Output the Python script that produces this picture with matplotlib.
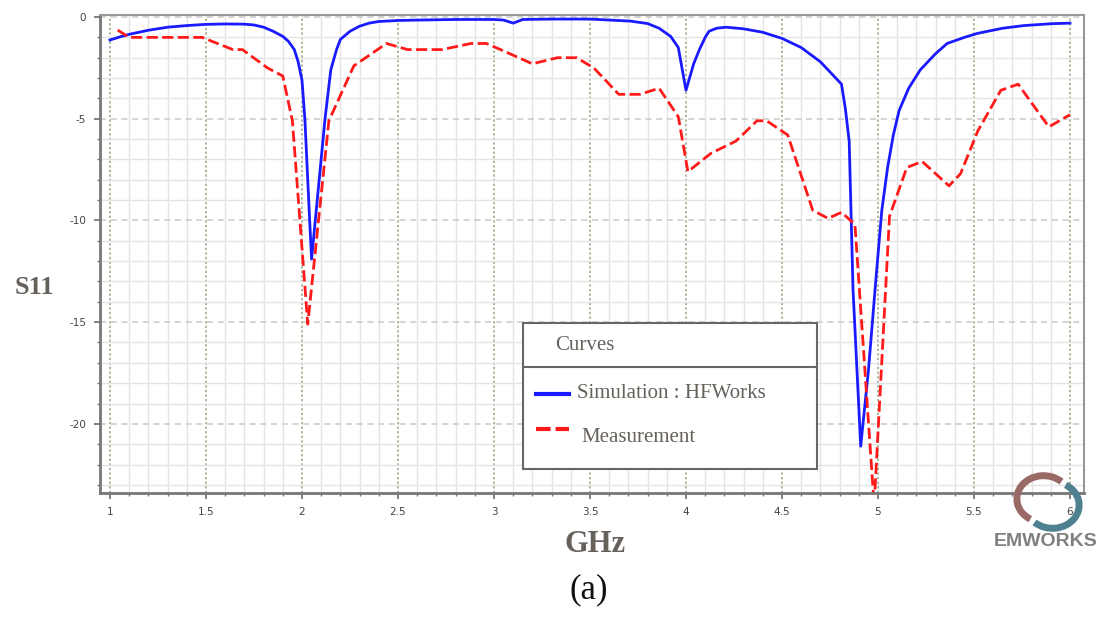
"""
S11 vs frequency: HFWorks simulation against measurement, panel (a).
"""
import matplotlib.pyplot as plt
from matplotlib.lines import Line2D
from matplotlib.patches import Rectangle, Arc
from matplotlib.ticker import MultipleLocator

plt.rcParams['axes.unicode_minus'] = False

# ── data ────────────────────────────────────────────────────────────
sim_ghz = [1.00, 1.05, 1.10, 1.20, 1.30, 1.40, 1.50, 1.60, 1.70, 1.75, 1.80,
           1.85, 1.90, 1.93, 1.96, 1.98, 2.00, 2.015, 2.04, 2.05, 2.12, 2.15,
           2.18, 2.20, 2.25, 2.30, 2.35, 2.40, 2.50, 2.60, 2.80, 3.00, 3.05,
           3.10, 3.15, 3.30, 3.50, 3.71, 3.80, 3.86, 3.92, 3.96, 4.00, 4.04,
           4.07, 4.10, 4.12, 4.16, 4.21, 4.30, 4.40, 4.50, 4.60, 4.70, 4.76,
           4.81, 4.83, 4.85, 4.87, 4.91, 4.95, 4.99, 5.02, 5.05, 5.08, 5.11,
           5.16, 5.22, 5.30, 5.36, 5.45, 5.52, 5.65, 5.76, 5.90, 6.00]
sim_s11 = [-1.13, -0.98, -0.85, -0.65, -0.50, -0.42, -0.36, -0.34, -0.35,
           -0.39, -0.50, -0.70, -0.95, -1.20, -1.60, -2.20, -3.10, -5.00,
           -10.0, -11.9, -5.00, -2.60, -1.60, -1.10, -0.70, -0.45, -0.30,
           -0.22, -0.17, -0.15, -0.12, -0.12, -0.15, -0.30, -0.12, -0.10,
           -0.10, -0.20, -0.32, -0.55, -0.95, -1.50, -3.60, -2.30, -1.60,
           -1.00, -0.70, -0.55, -0.50, -0.58, -0.75, -1.05, -1.50, -2.20,
           -2.80, -3.30, -4.50, -6.10, -13.4, -21.1, -17.4, -12.8, -9.50,
           -7.40, -5.80, -4.60, -3.50, -2.60, -1.80, -1.30, -1.00, -0.80,
           -0.55, -0.42, -0.33, -0.30]

meas_ghz = [1.04, 1.10, 1.30, 1.48, 1.64, 1.69, 1.82, 1.90, 1.95, 2.03, 2.14,
            2.27, 2.44, 2.55, 2.73, 2.88, 2.96, 3.01, 3.20, 3.33, 3.43, 3.52,
            3.65, 3.76, 3.86, 3.96, 4.01, 4.13, 4.26, 4.37, 4.42, 4.53, 4.66,
            4.74, 4.81, 4.88, 4.98, 5.06, 5.15, 5.23, 5.37, 5.43, 5.52, 5.64,
            5.73, 5.89, 6.00]
meas_s11 = [-0.64, -1.00, -1.00, -1.00, -1.60, -1.60, -2.50, -2.90, -5.10,
            -15.1, -5.10, -2.40, -1.30, -1.60, -1.60, -1.30, -1.30, -1.50,
            -2.30, -2.00, -2.00, -2.50, -3.80, -3.80, -3.50, -4.90, -7.60,
            -6.70, -6.10, -5.10, -5.10, -5.80, -9.50, -9.90, -9.60, -10.2,
            -24.0, -9.80, -7.40, -7.10, -8.30, -7.70, -5.60, -3.60, -3.30,
            -5.40, -4.80]

x_ticks = [1, 1.5, 2, 2.5, 3, 3.5, 4, 4.5, 5, 5.5, 6]
x_tick_labels = ['1', '1.5', '2', '2.5', '3', '3.5', '4', '4.5', '5', '5.5', '6']
y_ticks = [0, -5, -10, -15, -20]

W, H = 1112, 619
fig = plt.figure(figsize=(W / 100, H / 100), dpi=100)
ax = fig.add_axes((100 / W, 1 - 493 / H, 984 / W, 478 / H))

# grid: light minor mesh, olive dotted verticals, grey dashed horizontals
ax.xaxis.set_minor_locator(MultipleLocator(0.1))
ax.yaxis.set_minor_locator(MultipleLocator(1))
ax.grid(which='minor', color='#e4e4e4', lw=1.0, ls='-')
ax.grid(which='major', axis='x', color='#9aa383', lw=1.1, ls=(0, (1.5, 1.5)))
ax.grid(which='major', axis='y', color='#c9c9c9', lw=1.1, ls=(0, (4, 3)))
ax.set_axisbelow(True)

ax.plot(sim_ghz, sim_s11, color='#1a1aff', lw=2.0, solid_joinstyle='round')
ax.plot(meas_ghz, meas_s11, color='#ff1a1a', lw=2.0, ls=(0, (4, 1.6)))

ax.set_xlim(0.948, 6.073)
ax.set_ylim(-23.4, 0.1)
ax.set_xticks(x_ticks)
ax.set_xticklabels(x_tick_labels)
ax.set_yticks(y_ticks)
ax.tick_params(which='major', direction='out', length=4, width=1.3,
               color='#777777', labelsize=7.5, labelcolor='#444444', pad=6)
ax.tick_params(which='minor', direction='out', length=2.5, width=1.0,
               color='#777777')

for side in ('left', 'bottom'):
    ax.spines[side].set_color('#777777')
    ax.spines[side].set_linewidth(2.0)
for side in ('top', 'right'):
    ax.spines[side].set_color('#999999')
    ax.spines[side].set_linewidth(1.5)

serif = ['Liberation Serif', 'DejaVu Serif']
lab_col = '#66615a'
fig.text(34 / W, 1 - 287 / H, 'S11', fontsize=19, family=serif,
         weight='bold', color=lab_col, ha='center', va='center')
fig.text(595 / W, 1 - 545 / H, 'GHz', fontsize=22, family=serif,
         weight='bold', color=lab_col, ha='center', va='center')
fig.text(589 / W, 1 - 590 / H, '(a)', fontsize=25, family=serif,
         color='#111111', ha='center', va='center')

# ── hand-drawn legend box (title row + divider) ─────────────────────
tf = fig.transFigure
def px(x, y):
    return x / W, 1 - y / H

x0, y0 = px(523, 469)
x1, y1 = px(817, 323)
fig.patches.append(Rectangle((x0, y0), x1 - x0, y1 - y0, transform=tf,
                             facecolor='white', edgecolor='#666666', lw=1.5))
fig.lines.append(Line2D([x0, x1], [px(0, 367)[1]] * 2, transform=tf,
                        color='#666666', lw=1.5))
fig.text(*px(555, 345), 'Curves', fontsize=15, family=serif,
         color=lab_col, va='center')
fig.lines.append(Line2D([px(536, 0)[0], px(569, 0)[0]], [px(0, 394)[1]] * 2,
                        transform=tf, color='#1a1aff', lw=3))
fig.text(*px(577, 393), 'Simulation : HFWorks', fontsize=15, family=serif,
         color=lab_col, va='center')
fig.lines.append(Line2D([px(536, 0)[0], px(569, 0)[0]], [px(0, 429)[1]] * 2,
                        transform=tf, color='#ff1a1a', lw=3,
                        ls=(0, (3.5, 1.2))))
fig.text(*px(581, 438), 'Measurement', fontsize=15, family=serif,
         color=lab_col, va='center')

# ── EMWORKS badge ────────────────────────────────────────────────────
lx, ly = px(1048, 502)
fig.patches.append(Arc((lx - 0.004, ly + 0.005), 0.048, 0.075, angle=0,
                       theta1=60, theta2=250, transform=tf,
                       color='#9a6a66', lw=5))
fig.patches.append(Arc((lx + 0.004, ly - 0.005), 0.048, 0.075, angle=0,
                       theta1=240, theta2=430, transform=tf,
                       color='#4e8090', lw=5))
fig.text(*px(1046, 541), 'EMWORKS', fontsize=14, family=['Liberation Sans'],
         weight='bold', color='#808080', ha='center', va='center')

fig.savefig('out.png', dpi=100)
